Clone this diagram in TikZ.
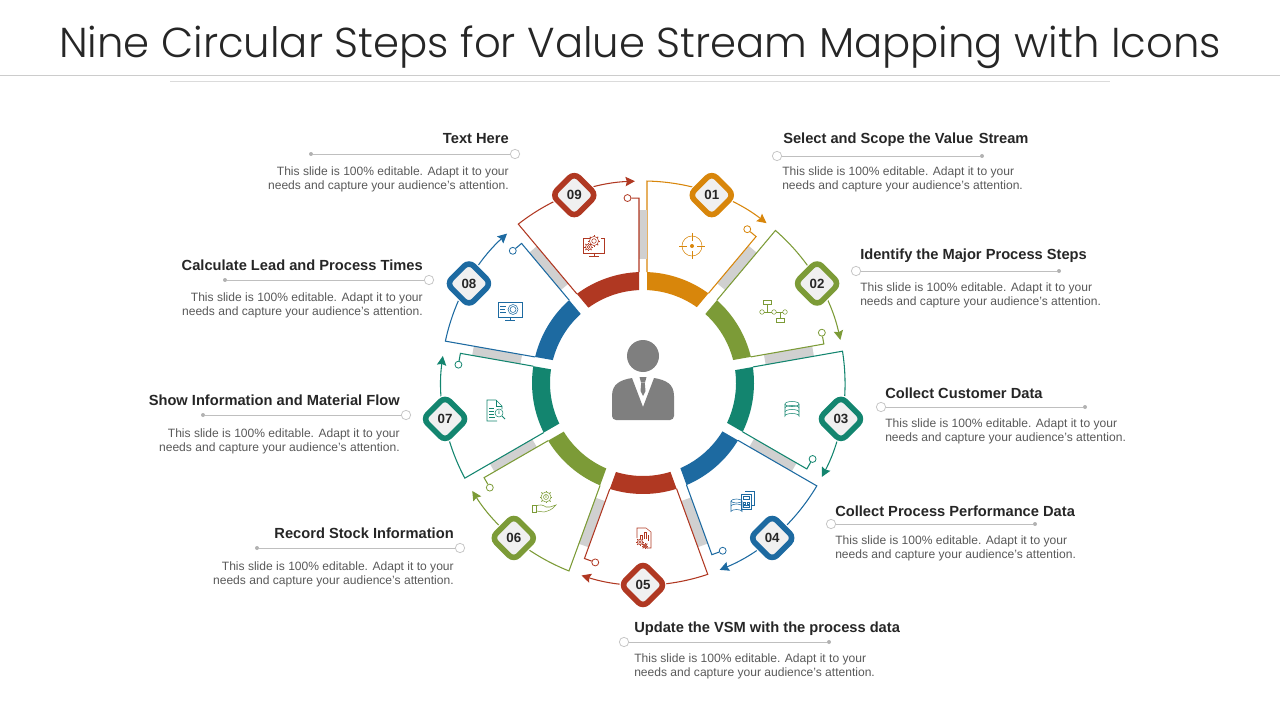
\documentclass[tikz,border=0pt]{standalone}
\usepackage{fontspec}
\setmainfont{Liberation Sans}
\newfontfamily\titlefont{Poppins Light}
\usetikzlibrary{arrows.meta,calc,shapes.geometric}
\definecolor{stepOrange}{HTML}{D8860B}
\definecolor{stepGreen}{HTML}{7C9B37}
\definecolor{stepTeal}{HTML}{13856F}
\definecolor{stepBlue}{HTML}{1D6AA1}
\definecolor{stepRed}{HTML}{B03822}
\definecolor{personGray}{HTML}{7F7F7F}
\definecolor{bandGray}{HTML}{D0D0D0}
\definecolor{bodyGray}{HTML}{595959}
\tikzset{
  heading/.style={font=\bfseries\fontsize{11}{13}\selectfont,text=black!85,inner sep=0pt},
  bodytext/.style={font=\fontsize{9.05}{10.5}\selectfont,text=bodyGray,inner sep=0pt},
  endring/.style={circle,draw=black!22,fill=white,line width=.6pt,inner sep=0pt,minimum size=7pt},
  enddot/.style={circle,fill=black!30,inner sep=0pt,minimum size=3pt},
  leader/.style={draw=black!25,line width=.7pt},
  badge/.style={diamond,aspect=1,draw=#1,fill=black!6,line width=4.2pt,rounded corners=5pt,
    inner sep=0pt,minimum size=35pt,font=\bfseries\fontsize{10}{12}\selectfont,text=black!85,
    preaction={draw=white,line width=6pt}},
  hookring/.style={circle,draw=#1,fill=white,line width=.6pt,inner sep=0pt,minimum size=5.2pt},
  icon/.style={draw=#1,line width=.4pt}
}
\newcommand{\minigear}[4]{% x, y, radius, colour
  \draw[icon=#4] (#1,#2) circle[radius=#3];
  \draw[icon=#4] (#1,#2) circle[radius=#3*0.5];
  \foreach \t in {0,45,...,315}{\draw[#4,line width=.6pt] ($(#1,#2)+(\t:#3)$) -- ($(#1,#2)+(\t:#3+1.4)$);}
}
\newcommand{\bodylines}{This slide is 100\% editable. Adapt it to your\\needs and capture your audience's attention.}
\begin{document}
\begin{tikzpicture}[x=.75pt,y=-.75pt]
\useasboundingbox (0,0) rectangle (1280,720);
% Title
\node[font=\titlefont\fontsize{31.35}{38}\selectfont,text=black!85,inner sep=0pt,anchor=base] (title) at (640,58) {Nine Circular Steps for Value Stream Mapping with Icons};
\draw[black!20,line width=.7pt] (0,75) -- (1280,75);
\draw[black!14,line width=.7pt] (170,81) -- (1110,81);
% Wedges, ring pieces and badges
\begin{scope}[shift={(643,383)},y=.75pt]
\foreach \i/\num/\th/\col/\a/\b/\nxt in {1/01/70/stepOrange/4/7.5/3.4,2/02/30/stepGreen/3.4/7/3.3,3/03/-10/stepTeal/3.3/7.5/2.2,
  4/04/-50/stepBlue/2.2/6/4.6,5/05/-90/stepRed/4.6/5/5.3,6/06/-130/stepGreen/5.3/2.5/6.7,
  7/07/-170/stepTeal/6.7/2.5/6.9,8/08/-210/stepBlue/6.9/3.3/6.6,9/09/-250/stepRed/6.6/4/4}{
  \pgfmathsetmacro\gap{\th-20}
  \pgfmathsetmacro\so{\th+20-asin(\a/111)}
  \pgfmathsetmacro\si{\th+20-asin(\a/93)}
  \pgfmathsetmacro\st{\th+20-asin(\a/202)}
  \pgfmathsetmacro\eo{\gap+asin(\b/111)}
  \pgfmathsetmacro\ei{\gap+asin(\b/93)}
  \pgfmathsetmacro\et{\gap+asin(\b/185)}
  \pgfmathsetmacro\tip{\th-17.7}
  % grey band in the gap
  \fill[bandGray,rotate=\gap] (124,-\nxt) rectangle (173,\b);
  % ring piece
  \fill[\col] (\so:111) arc[start angle=\so,end angle=\eo,radius=111] -- (\ei:93)
    arc[start angle=\ei,end angle=\si,radius=93] -- cycle;
  % outline
  \coordinate (p\i) at (\so:111);
  \coordinate (q\i) at (\st:202);
  \coordinate (u\i) at (\eo:111);
  \coordinate (e\i) at (\et:185);
  \node[hookring=\col] (k\i) at ($(e\i)+(\gap+90:11.5)$) {};
  \draw[\col,line width=.8pt] (u\i) -- (e\i) -- (k\i);
  \draw[\col,line width=.8pt,-{Stealth[length=7pt,width=7pt,inset=1pt]}] (p\i) -- (q\i) arc[start angle=\st,end angle=\tip,radius=202];
  \node[badge=\col] (b\i) at ($(\th:201)+(0,-1)$) {\num};
}
\end{scope}
% Person
\fill[personGray] (643,356) circle[radius=16];
\fill[personGray] (643,407) -- (632,378) .. controls (620,380) and (612,384) .. (612,396) [rounded corners=3pt] -- (612,420) -- (674,420) [sharp corners] -- (674,396) .. controls (674,384) and (666,380) .. (654,378) -- cycle;
\fill[personGray] (639.5,377) -- (646.5,377) -- (645,382.5) -- (641,382.5) -- cycle;
\fill[personGray] (641.2,383) -- (644.8,383) -- (645.5,391) -- (643,396) -- (640.5,391) -- cycle;
% Icon 01
\draw[icon=stepOrange] (692,246) circle[radius=10];
\fill[stepOrange] (692,246) circle[radius=2];
\draw[icon=stepOrange] (692,233) -- (692,241) (692,251) -- (692,259) (679,246) -- (687,246) (697,246) -- (705,246);
% Icon 02
\draw[icon=stepGreen] (764.3,312) -- (771.7,312) (776.3,312) -- (782.7,312) (767,304) -- (767,312) (780,318) -- (780,312);
\draw[icon=stepGreen] (762,312) circle[radius=2.3] (774,312) circle[radius=2.3] (785,312) circle[radius=2.3];
\draw[icon=stepGreen] (763,300) rectangle (771,304) (776,318) rectangle (784,322);
% Icon 03
\draw[icon=stepTeal] (792,404) ellipse[x radius=7,y radius=2.5];
\draw[icon=stepTeal] (785,404) -- (785,416) arc[start angle=180,end angle=360,x radius=7,y radius=2.5] -- (799,404);
\draw[icon=stepTeal] (785,408) arc[start angle=180,end angle=360,x radius=7,y radius=2.5] (785,412) arc[start angle=180,end angle=360,x radius=7,y radius=2.5];
% Icon 04
\draw[icon=stepBlue] (745,491) -- (754,491) -- (754,505) -- (751,505);
\draw[icon=stepBlue,fill=white] (741,494) rectangle (751,509);
\draw[icon=stepBlue] (743,496.5) rectangle (749,499.5) (743,502) rectangle (745,504) (747,502) rectangle (749,504) (743,505.5) rectangle (749,507);
\draw[icon=stepBlue] (736.5,501) ellipse[x radius=5.5,y radius=2];
\draw[icon=stepBlue] (731,501) -- (731,511.5) arc[start angle=180,end angle=360,x radius=5.5,y radius=2] -- (742,501);
\draw[icon=stepBlue] (731,506) arc[start angle=180,end angle=360,x radius=5.5,y radius=2];
% Icon 05
\draw[icon=stepRed] (637,538) -- (637,528) -- (646,528) -- (651,532) -- (651,548) -- (647,548);
\draw[icon=stepRed] (640,539) -- (640,535) -- (642,535) -- (642,539) (644,539) -- (644,532) -- (646,532) -- (646,539) (648,541) -- (648,535);
\minigear{640}{542}{2.6}{stepRed}
\minigear{645}{546}{1.8}{stepRed}
% Icon 06
\minigear{546}{497}{5}{stepGreen}
\node[font=\bfseries\fontsize{4}{4}\selectfont,text=stepGreen,inner sep=0pt] (ig) at (546,497) {i};
\draw[icon=stepGreen] (532,505) rectangle (536,512);
\draw[icon=stepGreen] (536,506) .. controls (540,504) and (543,505) .. (546,507) -- (550,507) -- (556,505) .. controls (552,510) and (548,511) .. (544,512) -- (536,511);
% Icon 07
\draw[icon=stepTeal] (497,421) -- (487,421) -- (487,400) -- (496,400) -- (502,406) -- (502,409);
\draw[icon=stepTeal] (496,400) -- (496,406) -- (502,406) (489,408) -- (494,408) (489,411) -- (494,411) (489,414) -- (494,414) (489,417) -- (495,417);
\draw[icon=stepTeal] (499,413) circle[radius=4];
\draw[stepTeal,line width=.7pt] (502,416) -- (505,419);
\node[font=\bfseries\fontsize{4}{4}\selectfont,text=stepTeal,inner sep=0pt] (ii) at (499,413) {i};
% Icon 08
\draw[icon=stepBlue] (498,302) rectangle (522,317) (510,317) -- (510,320) (505,320) -- (515,320);
\draw[icon=stepBlue] (513,309.5) circle[radius=5] (513,309.5) circle[radius=3];
\draw[icon=stepBlue] (500,306) -- (506,306) (500,309) -- (505,309) (500,312) -- (506,312);
% Icon 09
\draw[icon=stepRed] (590,238) -- (583,238) -- (583,253) -- (604,253) -- (604,238) -- (601,238) (594,253) -- (594,256) (589,256) -- (599,256);
\minigear{594}{241}{4.6}{stepRed}
\minigear{588.5}{247}{3}{stepRed}
% Labels right side
\node[heading,anchor=base west] (h1) at (783,144) {Select and Scope the Value\hspace{.38em}Stream};
\node[bodytext,anchor=north west,align=left] (t1) at (782,166.5) {\bodylines};
\node[endring] (r1) at (777,156) {};
\node[enddot] (d1) at (982,156) {};
\draw[leader] (r1) -- (d1);
\node[heading,anchor=base west] (h2) at (860,259) {Identify the Major Process Steps};
\node[bodytext,anchor=north west,align=left] (t2) at (860,282.5) {\bodylines};
\node[endring] (r2) at (856,271) {};
\node[enddot] (d2) at (1059,271) {};
\draw[leader] (r2) -- (d2);
\node[heading,anchor=base west] (h3) at (885,398) {Collect Customer Data};
\node[bodytext,anchor=north west,align=left] (t3) at (885,418.5) {\bodylines};
\node[endring] (r3) at (881,407) {};
\node[enddot] (d3) at (1085,407) {};
\draw[leader] (r3) -- (d3);
\node[heading,anchor=base west] (h4) at (835,516) {Collect Process Performance Data};
\node[bodytext,anchor=north west,align=left] (t4) at (835,535.5) {\bodylines};
\node[endring] (r4) at (831,524) {};
\node[enddot] (d4) at (1035,524) {};
\draw[leader] (r4) -- (d4);
\node[heading,anchor=base west] (h5) at (634,632) {Update the VSM with the process data};
\node[bodytext,anchor=north west,align=left] (t5) at (634,653.5) {\bodylines};
\node[endring] (r5) at (624,642) {};
\node[enddot] (d5) at (829,642) {};
\draw[leader] (r5) -- (d5);
% Labels left side
\node[heading,anchor=base east] (h6) at (454,538) {Record Stock Information};
\node[bodytext,anchor=north east,align=right] (t6) at (454,561.5) {\bodylines};
\node[endring] (r6) at (460,548) {};
\node[enddot] (d6) at (257,548) {};
\draw[leader] (r6) -- (d6);
\node[heading,anchor=base east] (h7) at (400,405) {Show Information and Material Flow};
\node[bodytext,anchor=north east,align=right] (t7) at (400,428.5) {\bodylines};
\node[endring] (r7) at (406,415) {};
\node[enddot] (d7) at (203,415) {};
\draw[leader] (r7) -- (d7);
\node[heading,anchor=base east] (h8) at (423,270) {Calculate Lead and Process Times};
\node[bodytext,anchor=north east,align=right] (t8) at (423,292.5) {\bodylines};
\node[endring] (r8) at (429,280) {};
\node[enddot] (d8) at (225,280) {};
\draw[leader] (r8) -- (d8);
\node[heading,anchor=base east] (h9) at (509,144) {Text Here};
\node[bodytext,anchor=north east,align=right] (t9) at (509,166.5) {\bodylines};
\node[endring] (r9) at (515,154) {};
\node[enddot] (d9) at (311,154) {};
\draw[leader] (r9) -- (d9);
\end{tikzpicture}
\end{document}
